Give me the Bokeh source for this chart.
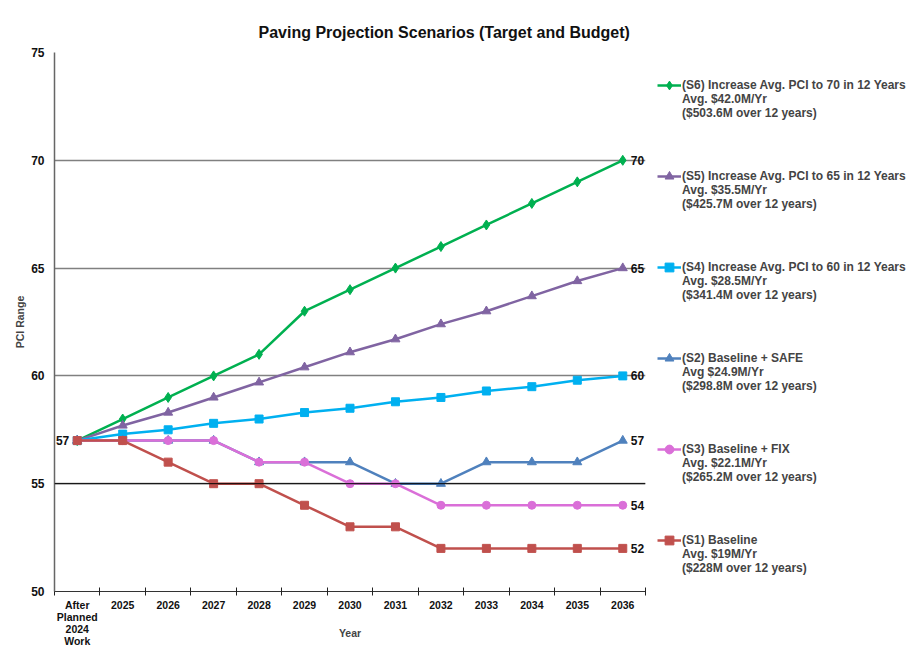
from bokeh.plotting import figure
from bokeh.layouts import row
from bokeh.models import (FixedTicker, Legend, LegendItem, Span, ColumnDataSource)
from bokeh.core.properties import value
from bokeh.embed import file_html
from bokeh.resources import INLINE

# ---------------- data ----------------
categories = ["After\nPlanned\n2024\nWork", "2025", "2026", "2027", "2028", "2029", "2030",
              "2031", "2032", "2033", "2034", "2035", "2036"]

s6 = [57, 58, 59, 60, 61, 63, 64, 65, 66, 67, 68, 69, 70]
s5 = [57, 57.7, 58.3, 59, 59.7, 60.4, 61.1, 61.7, 62.4, 63, 63.7, 64.4, 65]
s4 = [57, 57.3, 57.5, 57.8, 58, 58.3, 58.5, 58.8, 59, 59.3, 59.5, 59.8, 60]
s2 = [57, 57, 57, 57, 56, 56, 56, 55, 55, 56, 56, 56, 57]
s3 = [57, 57, 57, 57, 56, 56, 55, 55, 54, 54, 54, 54, 54]
s1 = [57, 57, 56, 55, 55, 54, 53, 53, 52, 52, 52, 52, 52]

legend_labels = {
    "s6": ["(S6) Increase Avg. PCI to 70 in 12 Years", "Avg. $42.0M/Yr", "($503.6M over 12 years)"],
    "s5": ["(S5) Increase Avg. PCI to 65 in 12 Years", "Avg. $35.5M/Yr", "($425.7M over 12 years)"],
    "s4": ["(S4) Increase Avg. PCI to 60 in 12 Years", "Avg. $28.5M/Yr", "($341.4M over 12 years)"],
    "s2": ["(S2) Baseline + SAFE", "Avg $24.9M/Yr", "($298.8M over 12 years)"],
    "s3": ["(S3) Baseline + FIX", "Avg. $22.1M/Yr", "($265.2M over 12 years)"],
    "s1": ["(S1) Baseline", "Avg. $19M/Yr", "($228M over 12 years)"],
}

y_ticks = [50, 55, 60, 65, 70, 75]
title_text = "Paving Projection Scenarios (Target and Budget)"
x_title = "Year"
y_title = "PCI Range"

# ---------------- main figure ----------------
FONT = "Liberation Sans"
n = len(categories)
xs = [i + 0.5 for i in range(n)]
H = 648

p = figure(width=647, height=H, output_backend="svg", toolbar_location=None,
           x_range=(0, n), y_range=(y_ticks[0], y_ticks[-1]),
           min_border_left=54, min_border_right=2, min_border_top=52, min_border_bottom=57)
p.outline_line_color = None
p.background_fill_color = "white"
p.border_fill_color = "white"

# title
p.title.text = title_text
p.title.align = "left"
p.title.offset = 204
p.title.standoff = 23
p.title.text_font = FONT
p.title.text_font_style = "bold"
p.title.text_font_size = "16px"
p.title.text_color = "#111111"

# axes
p.xaxis.ticker = FixedTicker(ticks=xs, minor_ticks=list(range(n + 1)))
p.xaxis.major_label_overrides = {x: c for x, c in zip(xs, categories)}
p.xaxis.major_tick_line_color = None
p.xaxis.major_tick_in = 0
p.xaxis.major_tick_out = 0
p.xaxis.minor_tick_line_color = "#222222"
p.xaxis.minor_tick_in = 4
p.xaxis.minor_tick_out = 4
p.xaxis.axis_line_color = "#333333"
p.xaxis.major_label_text_font = FONT
p.xaxis.major_label_text_font_style = "bold"
p.xaxis.major_label_text_font_size = "10.5px"
p.xaxis.major_label_text_line_height = 1.0
p.xaxis.major_label_standoff = 3
p.xaxis.major_label_text_color = "#111111"
p.xaxis.axis_label = x_title
p.xaxis.axis_label_text_font = FONT
p.xaxis.axis_label_text_font_style = "bold"
p.xaxis.axis_label_text_font_size = "10.5px"
p.xaxis.axis_label_standoff = -23

p.yaxis.ticker = FixedTicker(ticks=y_ticks, minor_ticks=[])
p.yaxis.major_tick_line_color = None
p.yaxis.major_tick_in = 0
p.yaxis.major_tick_out = 0
p.yaxis.axis_line_color = "#666666"
p.yaxis.axis_line_width = 1.5
p.yaxis.major_label_text_font = FONT
p.yaxis.major_label_text_font_style = "bold"
p.yaxis.major_label_text_font_size = "12px"
p.yaxis.major_label_standoff = 10
p.yaxis.major_label_text_color = "#111111"
p.yaxis.axis_label = y_title
p.yaxis.axis_label_text_font = FONT
p.yaxis.axis_label_text_font_style = "bold"
p.yaxis.axis_label_text_font_size = "10.5px"
p.yaxis.axis_label_standoff = 2

p.xgrid.grid_line_color = None
p.ygrid.grid_line_color = "#808080"
p.ygrid.grid_line_width = 1.5
p.add_layout(Span(location=y_ticks[1], dimension="width", line_color="black", line_width=1))

# ---------------- legend figure ----------------
q = figure(width=265, height=H, output_backend="svg", toolbar_location=None,
           x_axis_type=None, y_axis_type=None, x_range=(0, 1), y_range=(0, 1),
           min_border_left=0, min_border_right=0, min_border_top=0, min_border_bottom=0)
q.outline_line_color = None
q.grid.visible = False
q.background_fill_color = "white"
q.border_fill_color = "white"

# series
series = [
    ("s6", s6, "#00B050", "diamond", 10),
    ("s5", s5, "#8064A2", "triangle", 9),
    ("s4", s4, "#00B0F0", "square", 8),
    ("s2", s2, "#4F81BD", "triangle", 9),
    ("s3", s3, "#DA6FD8", "circle", 8),
    ("s1", s1, "#C0504D", "square", 8),
]

items = []
for key, vals, color, marker, size in series:
    src = ColumnDataSource(dict(x=xs, y=vals))
    p.line("x", "y", source=src, line_color=color, line_width=2.5)
    p.scatter("x", "y", source=src, marker=marker, size=size,
              fill_color=color, line_color=color)
    # legend swatch with the same style (no visible data) in the legend panel
    swatch = ColumnDataSource(dict(x=[float("nan")], y=[float("nan")]))
    lr = q.line("x", "y", source=swatch, line_color=color, line_width=2.5)
    mr = q.scatter("x", "y", source=swatch, marker=marker, size=size,
                   fill_color=color, line_color=color)
    # two leading blank lines keep the swatch level with the first text line
    items.append(LegendItem(label="\n\n" + "\n".join(legend_labels[key]), renderers=[lr, mr]))
    end_src = ColumnDataSource(dict(x=[xs[-1]], y=[vals[-1]], t=["%g" % vals[-1]]))
    p.text("x", "y", text="t", source=end_src, x_offset=8, text_align="left",
           text_baseline="middle", text_font=value(FONT), text_font_style="bold",
           text_font_size="12px", text_color="#111111")

start_src = ColumnDataSource(dict(x=[xs[0]], y=[s1[0]], t=["%g" % s1[0]]))
p.text("x", "y", text="t", source=start_src, x_offset=-8, text_align="right",
       text_baseline="middle", text_font=value(FONT), text_font_style="bold",
       text_font_size="12px", text_color="#111111")

legend = Legend(items=items, location=(10, 16), orientation="vertical",
                glyph_width=24, glyph_height=22, label_standoff=1,
                label_text_font=FONT, label_text_font_style="bold",
                label_text_font_size="12px", label_text_line_height=1.08,
                label_text_baseline="middle", label_height=14,
                spacing=21, padding=0, margin=0,
                border_line_color=None, background_fill_alpha=0)
q.add_layout(legend, "center")

layout = row(p, q, spacing=0)
open("out.html", "w").write(file_html(layout, INLINE))
